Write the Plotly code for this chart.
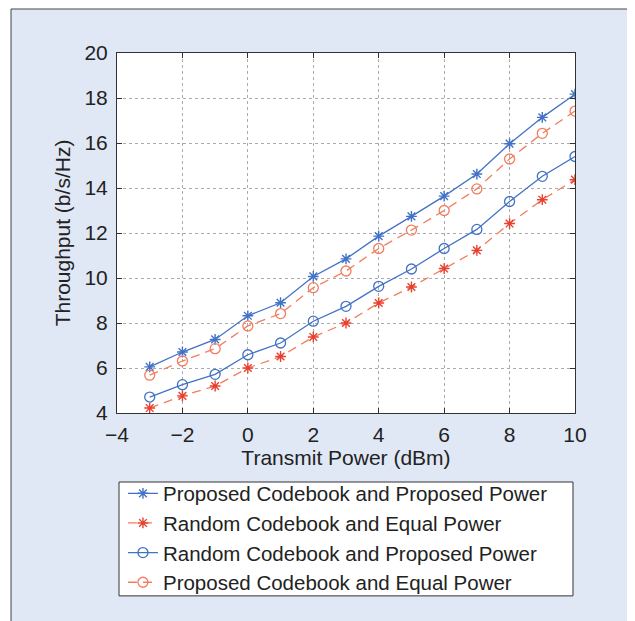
import plotly.graph_objects as go

x_power = [-3, -2, -1, 0, 1, 2, 3, 4, 5, 6, 7, 8, 9, 10]
pcpp = [6.05, 6.71, 7.27, 8.32, 8.9, 10.07, 10.85, 11.86, 12.74, 13.64, 14.62, 15.97, 17.14, 18.17]
rcep = [4.22, 4.76, 5.2, 6.0, 6.51, 7.38, 8.0, 8.89, 9.6, 10.42, 11.23, 12.42, 13.48, 14.37]
rcpp = [4.71, 5.26, 5.72, 6.59, 7.11, 8.08, 8.74, 9.63, 10.4, 11.31, 12.16, 13.4, 14.52, 15.4]
pcep = [5.68, 6.31, 6.86, 7.87, 8.42, 9.57, 10.31, 11.31, 12.13, 13.0, 13.96, 15.29, 16.43, 17.42]

names = ["Proposed Codebook and Proposed Power",
         "Random Codebook and Equal Power",
         "Random Codebook and Proposed Power",
         "Proposed Codebook and Equal Power"]

x_ticks = [-4, -2, 0, 2, 4, 6, 8, 10]
y_ticks = [4, 6, 8, 10, 12, 14, 16, 18, 20]

BLUE = "#4272c6"
ORANGE = "#f27d5e"
RED = "#e8402e"
FONT = "Liberation Sans, Arial, sans-serif"

fig = go.Figure()
fig.add_trace(go.Scatter(x=x_power, y=pcpp, name=names[0], mode="lines+markers",
                         line=dict(color=BLUE, width=1.3),
                         marker=dict(symbol="asterisk-open", size=9, color=BLUE,
                                     line=dict(color=BLUE, width=1.4))))
fig.add_trace(go.Scatter(x=x_power, y=rcep, name=names[1], mode="lines+markers",
                         line=dict(color=ORANGE, width=1.3, dash="9px,6px"),
                         marker=dict(symbol="asterisk-open", size=9, color=RED,
                                     line=dict(color=RED, width=1.4))))
fig.add_trace(go.Scatter(x=x_power, y=rcpp, name=names[2], mode="lines+markers",
                         line=dict(color=BLUE, width=1.3),
                         marker=dict(symbol="circle-open", size=10, color=BLUE,
                                     line=dict(color=BLUE, width=1.3))))
fig.add_trace(go.Scatter(x=x_power, y=pcep, name=names[3], mode="lines+markers",
                         line=dict(color=ORANGE, width=1.3, dash="9px,6px"),
                         marker=dict(symbol="circle-open", size=10, color=ORANGE,
                                     line=dict(color=ORANGE, width=1.3))))

axis_common = dict(
    showline=True, linecolor="#333333", linewidth=1, mirror="ticks",
    ticks="inside", ticklen=5, tickcolor="#333333",
    showgrid=True, gridcolor="#ababab", griddash="dot", gridwidth=1,
    zeroline=False,
    tickfont=dict(family=FONT, size=21, color="#222222"),
    title_font=dict(family=FONT, size=21, color="#222222"),
)

fig.update_xaxes(range=[-4, 10], tickvals=x_ticks, title_text="Transmit Power (dBm)",
                 title_standoff=3, ticklabelstandoff=3, **axis_common)
fig.update_yaxes(range=[4, 20], tickvals=y_ticks, title_text="Throughput (b/s/Hz)",
                 title_standoff=8, ticklabelstandoff=4, **axis_common)

shapes = [
    # outer light-blue panel
    dict(type="rect", xref="paper", yref="paper", x0=-0.2314, x1=1.1201, y0=-0.62, y1=1.1222,
         fillcolor="#e1e8f5", line=dict(color="#444444", width=1), layer="below"),
    # white plot area
    dict(type="rect", xref="paper", yref="paper", x0=0, x1=1, y0=0, y1=1,
         fillcolor="white", line=dict(width=0), layer="below"),
    # legend box
    dict(type="rect", xref="paper", yref="paper", x0=0.0044, x1=0.9956, y0=-0.508, y1=-0.1917,
         fillcolor="white", line=dict(color="#333333", width=1), layer="below"),
]

fig.update_layout(
    width=627, height=613,
    margin=dict(l=109, r=60, t=45, b=208),
    paper_bgcolor="white", plot_bgcolor="rgba(0,0,0,0)",
    shapes=shapes,
    showlegend=True,
    legend=dict(x=0.013, y=-0.168, xanchor="left", yanchor="top",
                bgcolor="rgba(0,0,0,0)", borderwidth=0,
                font=dict(family=FONT, size=20.5, color="#222222"),
                tracegroupgap=0, itemwidth=30),
)

fig.write_html("out.html")
